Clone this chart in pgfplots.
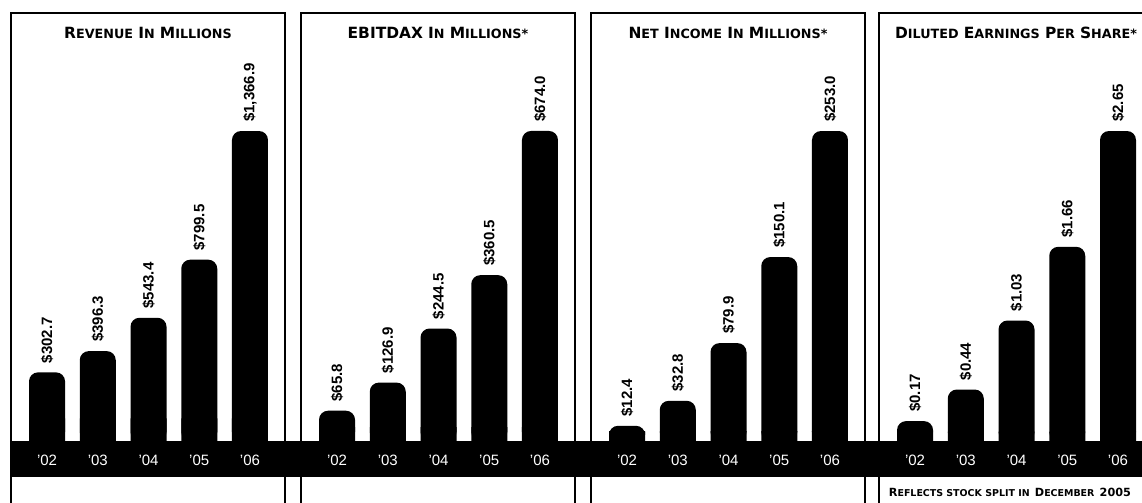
\documentclass[border=0pt]{standalone}
\usepackage{pgfplots}
\pgfplotsset{compat=1.18}
\usepackage{pgfplotstable}
\usepackage{fontspec}
\setmainfont{Liberation Sans}
\newfontfamily\titlefont{DejaVu Sans}
\newcommand{\bigt}{\fontsize{10.3pt}{12pt}\selectfont}
\newcommand{\smt}{\fontsize{8.5pt}{10pt}\selectfont}
\newcommand{\tw}[2]{{\bigt #1}{\smt #2}}
\newcommand{\fbig}{\fontsize{7.5pt}{9pt}\selectfont}
\newcommand{\fsm}{\fontsize{6.3pt}{8pt}\selectfont}

\pgfplotstableread{
x y base label
0 302.7 100 \$302.7
1 396.3 100 \$396.3
2 543.4 100 \$543.4
3 799.5 100 \$799.5
4 1366.9 100 \$1,366.9
}\revtable
\pgfplotstableread{
x y base label
0 65.8 30 \$65.8
1 126.9 30 \$126.9
2 244.5 30 \$244.5
3 360.5 30 \$360.5
4 674.0 30 \$674.0
}\ebtable
\pgfplotstableread{
x y base label
0 12.4 8 \$12.4
1 32.8 8 \$32.8
2 79.9 8 \$79.9
3 150.1 8 \$150.1
4 253.0 8 \$253.0
}\nitable
\pgfplotstableread{
x y base label
0 0.17 0.08 \$0.17
1 0.44 0.08 \$0.44
2 1.03 0.08 \$1.03
3 1.66 0.08 \$1.66
4 2.65 0.08 \$2.65
}\epstable

\pgfplotsset{
  panel/.style={at={(#1,40.667pt)}, anchor=south west, scale only axis,
    width=182.667pt, height=285.333pt, xmin=-0.71, xmax=4.69, ymin=0,
    axis line style={draw=none}, major tick length=0pt, ytick=\empty,
    xtick={0,1,2,3,4}, xticklabels={'02,'03,'04,'05,'06},
    xticklabel style={anchor=center, yshift=-12.67pt, text=white, font=\fontsize{10pt}{12pt}\selectfont},
    clip=false,
    title style={at={(0.5,1)}, anchor=center, yshift=-19pt, font=\titlefont\bfseries}},
  basebar/.style={ybar, bar width=24pt, bar shift=0pt, fill=black, draw=none},
  mainbar/.style={basebar, rounded corners=6pt,
    nodes near coords={\rotatebox{90}{\pgfplotspointmeta}},
    point meta=explicit symbolic,
    every node near coord/.append style={inner xsep=0pt, inner ysep=6pt,
      font=\fontsize{10pt}{12pt}\selectfont\bfseries, text=black}}
}

\begin{document}
\begin{tikzpicture}
\useasboundingbox (0,0) rectangle (761.333pt,334.667pt);
\foreach \L in {7.333, 200.667, 394, 586}{
  \draw[line width=0.9pt] (\L pt,-5pt) -- (\L pt,326pt) -- ++(182.667pt,0pt) -- ++(0pt,-331pt);
}
\fill[black] (7.333pt,16.667pt) rectangle (775pt,40.667pt);

\begin{axis}[panel=7.333pt, ymax=1887.2,
  title={\tw{R}{EVENUE} \tw{I}{N} \tw{M}{ILLIONS}}]
\addplot[basebar] table[x=x,y=base] {\revtable};
\addplot[mainbar] table[x=x,y=y,meta=label] {\revtable};
\end{axis}

\begin{axis}[panel=200.667pt, ymax=930.5,
  title={{\bigt EBITDAX} \tw{I}{N} \tw{M}{ILLIONS}{\smt *}}]
\addplot[basebar] table[x=x,y=base] {\ebtable};
\addplot[mainbar] table[x=x,y=y,meta=label] {\ebtable};
\end{axis}

\begin{axis}[panel=394pt, ymax=349.3,
  title={\tw{N}{ET} \tw{I}{NCOME} \tw{I}{N} \tw{M}{ILLIONS}{\smt *}}]
\addplot[basebar] table[x=x,y=base] {\nitable};
\addplot[mainbar] table[x=x,y=y,meta=label] {\nitable};
\end{axis}

\begin{axis}[panel=586pt, ymax=3.659,
  title={\tw{D}{ILUTED} \tw{E}{ARNINGS} \tw{P}{ER} \tw{S}{HARE}{\smt *}}]
\addplot[basebar] table[x=x,y=base] {\epstable};
\addplot[mainbar] table[x=x,y=y,meta=label] {\epstable};
\end{axis}

\node[font=\titlefont\bfseries, anchor=center] at (673.3pt,6.67pt)
  {{\fbig R}{\fsm EFLECTS STOCK SPLIT IN} {\fbig D}{\fsm ECEMBER} {\fbig 2005}};
\end{tikzpicture}
\end{document}
